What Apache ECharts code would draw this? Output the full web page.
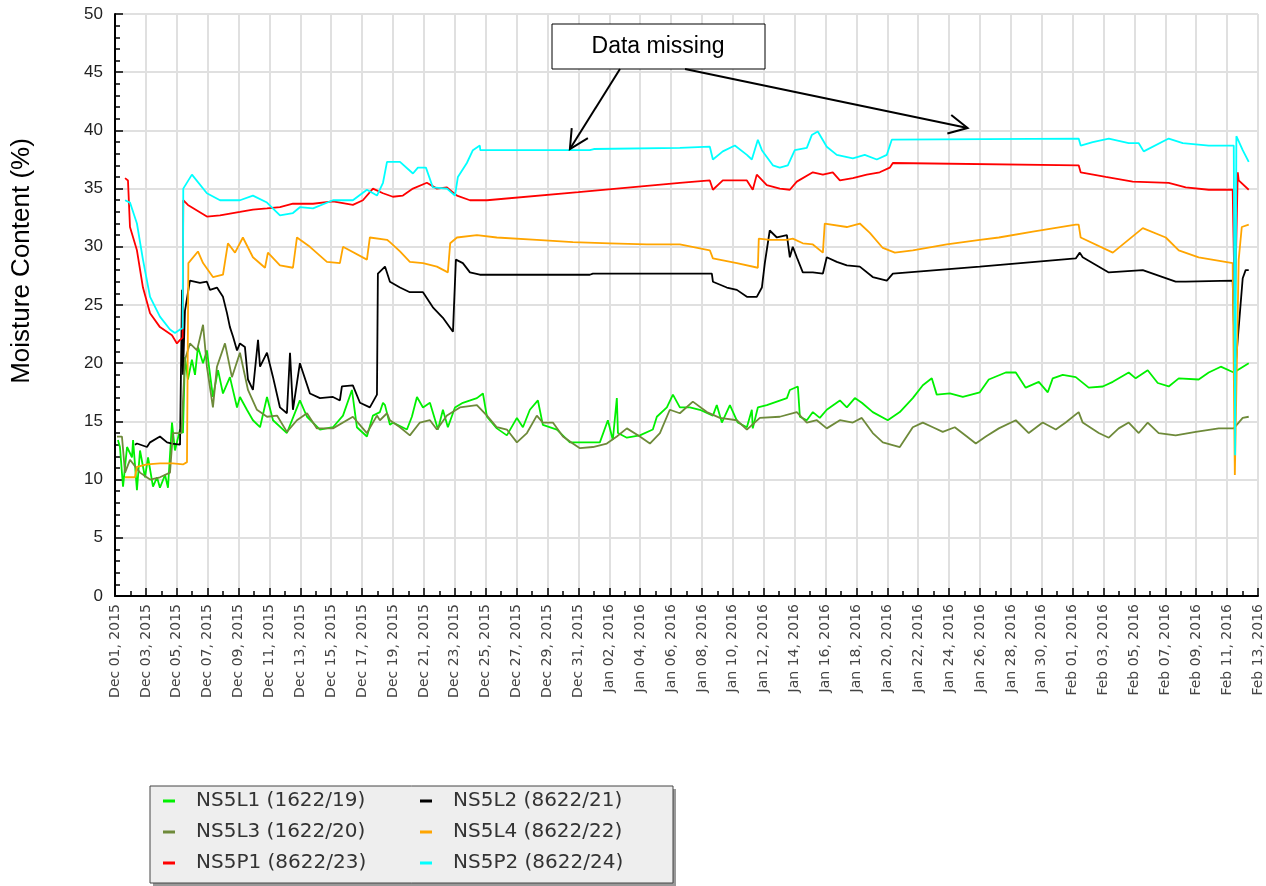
<!DOCTYPE html>
<html>
<head>
<meta charset="utf-8">
<title>Moisture Content</title>
<script src="https://cdn.jsdelivr.net/npm/echarts@6.0.0/dist/echarts.min.js"></script>
<style>
  html, body { margin: 0; padding: 0; background: #fff; }
  #chart { width: 1266px; height: 886px; }
</style>
</head>
<body>
<div id="chart"></div>
<script>
// x = days since Dec 01, 2015 (00:00), y = moisture content (%)
const START = Date.UTC(2015, 11, 1);
const MONTHS = ["Jan", "Feb", "Mar", "Apr", "May", "Jun", "Jul", "Aug", "Sep", "Oct", "Nov", "Dec"];

const ns5l1 = [
  [0.19,13.4],[0.32,12.8],[0.52,9.4],[0.78,12.8],[1.10,11.9],[1.17,13.4],[1.42,9.1],[1.62,12.5],[1.94,10.2],
  [2.14,11.9],[2.46,9.4],[2.72,10.2],[2.91,9.3],[3.24,10.4],[3.43,9.3],[3.69,14.9],[3.88,12.5],[4.21,14.3],
  [4.40,14.0],[4.53,20.5],[4.72,18.6],[4.98,20.3],[5.18,19.0],[5.37,21.4],[5.70,20.0],[5.95,21.1],[6.34,17.1],
  [6.67,19.4],[6.99,17.4],[7.44,18.8],[7.90,16.2],[8.09,17.1],[8.54,16.0],[8.93,15.1],[9.39,14.5],[9.84,17.1],
  [10.23,15.1],[11.13,14.0],[11.97,16.8],[12.43,15.4],[13.27,14.3],[14.11,14.5],[14.76,15.5],[15.34,17.7],
  [15.66,14.5],[16.31,13.7],[16.70,15.5],[17.15,15.8],[17.35,16.6],[17.48,16.4],[17.80,14.7],[17.99,14.9],
  [18.90,14.3],[19.22,15.4],[19.55,17.1],[19.94,16.2],[20.39,16.6],[20.91,14.3],[21.23,16.0],[21.55,14.5],
  [22.01,16.2],[22.52,16.6],[23.43,17.0],[23.82,17.4],[24.08,15.4],[24.72,14.4],[25.37,13.8],[26.02,15.3],
  [26.41,14.5],[26.86,16.0],[27.38,16.8],[27.70,14.7],[28.61,14.3],[29.45,13.2],[30.29,13.2],[31.39,13.2],
  [31.91,15.1],[32.23,13.4],[32.49,17.0],[32.56,14.0],[33.14,13.6],[33.98,13.8],[34.82,14.3],[35.08,15.4],
  [35.73,16.2],[36.12,17.3],[36.57,16.2],[37.22,16.2],[37.86,16.0],[38.71,15.5],[38.96,16.4],[39.29,14.9],
  [39.81,16.4],[40.32,14.9],[40.91,14.5],[41.23,16.0],[41.29,14.4],[41.62,16.2],[42.20,16.4],[42.85,16.7],
  [43.50,17.0],[43.69,17.7],[44.21,18.0],[44.34,15.4],[44.79,15.1],[45.18,15.8],[45.63,15.3],[46.08,16.0],
  [46.93,16.8],[47.38,16.2],[47.90,17.0],[48.35,16.6],[49.06,15.8],[50.03,15.1],[50.81,15.8],[51.65,17.0],
  [52.30,18.1],[52.88,18.7],[53.20,17.3],[54.05,17.4],[54.89,17.1],[55.99,17.5],[56.57,18.6],[57.67,19.2],
  [58.32,19.2],[58.96,17.9],[59.81,18.4],[60.39,17.5],[60.71,18.7],[61.36,19.0],[62.20,18.8],[63.04,17.9],
  [63.95,18.0],[64.60,18.4],[65.63,19.2],[66.08,18.7],[66.86,19.4],[67.51,18.3],[68.22,18.0],[68.87,18.7],
  [70.16,18.6],[70.81,19.2],[71.59,19.7],[72.43,19.2],[73.40,20.0]
];

const ns5l2 = [
  [1.29,13.0],[1.42,13.1],[2.07,12.8],[2.27,13.2],[2.91,13.7],[3.37,13.2],[3.69,13.1],[4.21,13.0],[4.30,13.0],
  [4.34,26.3],[4.40,19.0],[4.53,24.5],[4.85,27.1],[5.50,26.9],[5.95,27.0],[6.15,26.3],[6.60,26.5],[6.99,25.7],
  [7.25,24.3],[7.44,23.1],[7.64,22.3],[7.90,21.1],[8.09,21.7],[8.41,21.4],[8.61,18.6],[8.93,17.7],[9.26,22.0],
  [9.39,19.7],[9.84,20.9],[10.23,18.8],[10.68,16.2],[11.13,15.7],[11.33,20.9],[11.52,16.0],[11.97,20.0],
  [12.17,19.2],[12.62,17.4],[13.27,17.0],[14.11,17.1],[14.56,16.8],[14.69,18.0],[15.40,18.1],[15.86,16.6],
  [16.50,16.2],[16.96,17.3],[17.02,27.7],[17.48,28.3],[17.80,27.0],[18.45,26.5],[19.09,26.1],[19.94,26.1],
  [20.58,24.8],[21.23,23.9],[21.88,22.7],[22.07,28.9],[22.52,28.6],[22.98,27.8],[23.62,27.6],[30.74,27.6],
  [30.94,27.7],[36.57,27.7],[38.64,27.7],[38.71,27.0],[39.61,26.5],[40.26,26.3],[40.91,25.7],[41.55,25.7],
  [41.88,26.5],[42.07,28.6],[42.39,31.4],[42.85,30.8],[43.50,31.0],[43.69,29.1],[43.88,30.0],[44.14,29.1],
  [44.53,27.8],[45.18,27.8],[45.83,27.7],[46.08,29.1],[46.73,28.7],[47.38,28.4],[48.22,28.3],[49.06,27.4],
  [49.97,27.1],[50.36,27.7],[55.99,28.3],[62.20,29.0],[62.46,29.5],[62.65,29.1],[64.34,27.8],[66.54,28.0],
  [68.67,27.0],[69.32,27.0],[72.36,27.1],[72.52,19.3],[73.01,27.3],[73.20,28.0],[73.40,28.0]
];

const ns5l3 = [
  [0.13,13.7],[0.45,13.7],[0.65,10.6],[0.97,11.7],[1.62,10.6],[2.27,10.0],[2.91,10.2],[3.56,10.6],[3.75,14.0],
  [4.30,14.0],[4.53,20.3],[4.85,21.7],[5.31,21.1],[5.70,23.3],[5.95,19.7],[6.34,16.2],[6.60,19.7],[7.12,21.7],
  [7.57,18.8],[8.09,20.9],[8.61,17.7],[9.19,16.0],[9.84,15.4],[10.49,15.5],[11.13,14.1],[11.78,15.1],
  [12.43,15.7],[13.07,14.4],[14.11,14.4],[15.40,15.4],[16.31,14.0],[16.96,15.5],[17.15,15.1],[17.61,15.7],
  [17.80,15.1],[18.45,14.5],[19.09,13.8],[19.74,14.9],[20.39,15.1],[20.84,14.3],[21.49,15.5],[22.33,16.2],
  [23.43,16.4],[24.08,15.5],[24.72,14.5],[25.37,14.3],[26.02,13.2],[26.67,14.0],[27.31,15.5],[27.70,14.9],
  [28.35,14.9],[29.00,13.7],[29.64,13.1],[30.10,12.7],[30.94,12.8],[31.84,13.1],[32.49,13.7],[33.14,14.4],
  [33.98,13.7],[34.63,13.1],[35.28,14.0],[35.92,16.0],[36.57,15.7],[37.41,16.7],[38.32,15.8],[39.16,15.3],
  [40.26,15.1],[40.91,14.3],[41.75,15.3],[43.04,15.4],[44.14,15.8],[44.79,14.9],[45.44,15.1],[46.08,14.4],
  [46.93,15.1],[47.77,14.9],[48.35,15.3],[49.06,14.0],[49.71,13.2],[50.81,12.8],[51.65,14.5],[52.30,14.9],
  [52.95,14.5],[53.59,14.1],[54.37,14.5],[55.15,13.7],[55.73,13.1],[56.38,13.7],[57.22,14.4],[58.32,15.1],
  [59.16,14.0],[60.06,14.9],[60.91,14.3],[61.55,14.9],[62.39,15.8],[62.65,14.9],[63.69,14.0],[64.34,13.6],
  [64.98,14.4],[65.63,14.9],[66.28,14.0],[66.86,14.9],[67.57,14.0],[68.67,13.8],[69.97,14.1],[71.46,14.4],
  [72.43,14.4],[73.01,15.3],[73.40,15.4]
];

const ns5l4 = [
  [0.65,10.2],[1.29,10.2],[1.42,11.1],[2.07,11.3],[2.91,11.4],[3.75,11.4],[4.40,11.3],[4.66,11.5],[4.75,28.6],
  [5.37,29.6],[5.70,28.6],[6.34,27.4],[6.99,27.6],[7.31,30.3],[7.77,29.5],[8.28,30.8],[8.93,29.1],[9.71,28.2],
  [9.90,29.5],[10.68,28.4],[11.52,28.2],[11.78,30.8],[12.62,30.0],[13.72,28.7],[14.56,28.6],[14.76,30.0],
  [16.31,28.9],[16.50,30.8],[17.61,30.6],[17.80,30.4],[18.45,29.6],[19.09,28.7],[19.94,28.6],[20.84,28.3],
  [21.55,27.8],[21.70,30.3],[22.14,30.8],[23.43,31.0],[24.72,30.8],[27.31,30.6],[29.64,30.4],[32.04,30.3],
  [34.43,30.2],[36.57,30.2],[38.51,29.7],[38.71,29.0],[40.26,28.6],[41.62,28.2],[41.68,30.7],[42.39,30.6],
  [43.50,30.6],[43.88,30.7],[44.53,30.3],[45.18,30.2],[45.83,29.5],[45.95,32.0],[47.38,31.7],[48.22,32.0],
  [48.87,31.2],[49.71,29.9],[50.49,29.5],[51.65,29.7],[53.85,30.2],[55.99,30.6],[57.22,30.8],[59.42,31.3],
  [62.20,31.9],[62.39,31.9],[62.52,30.8],[64.60,29.5],[66.54,31.6],[68.03,30.8],[68.87,29.7],[70.16,29.1],
  [72.36,28.6],[72.50,10.4],[72.75,28.9],[72.95,31.7],[73.40,31.9]
];

const ns5p1 = [
  [0.65,35.9],[0.84,35.7],[0.97,31.7],[1.42,29.7],[1.81,26.5],[2.27,24.3],[2.91,23.1],[3.69,22.4],[4.01,21.7],
  [4.21,22.0],[4.38,22.2],[4.42,34.0],[4.72,33.6],[5.95,32.6],[6.80,32.7],[8.09,33.0],[8.93,33.2],[9.84,33.3],
  [10.68,33.4],[11.52,33.7],[12.82,33.7],[14.11,33.9],[15.40,33.6],[16.05,34.0],[16.70,35.0],[17.35,34.6],
  [17.99,34.3],[18.64,34.4],[19.29,35.0],[20.19,35.5],[20.84,35.0],[21.49,35.1],[22.14,34.4],[22.98,34.0],
  [24.08,34.0],[30.00,34.7],[36.57,35.5],[38.51,35.7],[38.71,34.9],[39.35,35.7],[40.91,35.7],[41.29,34.9],
  [41.55,36.2],[42.20,35.3],[43.04,35.0],[43.69,34.9],[44.14,35.6],[45.18,36.4],[45.83,36.2],[46.47,36.4],
  [46.93,35.7],[47.77,35.9],[48.67,36.2],[49.51,36.4],[50.16,36.8],[50.36,37.2],[62.39,37.0],[62.52,36.4],
  [64.14,36.0],[65.89,35.6],[68.22,35.5],[69.32,35.1],[70.81,34.9],[72.36,34.9],[72.50,24.6],[72.69,36.4],
  [72.75,35.7],[73.40,34.9]
];

const ns5p2 = [
  [0.65,34.0],[0.97,33.8],[1.42,32.0],[1.81,28.9],[2.27,25.7],[2.91,24.0],[3.56,22.9],[3.88,22.6],[4.21,22.9],
  [4.38,23.0],[4.42,35.0],[4.98,36.2],[5.95,34.6],[6.80,34.0],[8.09,34.0],[8.93,34.4],[9.84,33.8],[10.68,32.7],
  [11.52,32.9],[11.97,33.4],[12.82,33.3],[14.11,34.0],[15.40,34.0],[16.31,34.9],[16.96,34.4],[17.35,35.5],
  [17.61,37.3],[18.45,37.3],[19.29,36.3],[19.61,36.8],[20.13,36.8],[20.58,35.1],[21.49,35.0],[22.01,34.4],
  [22.20,36.0],[22.78,37.2],[23.17,38.3],[23.62,38.7],[23.65,38.3],[30.74,38.3],[31.00,38.4],[36.57,38.5],
  [38.51,38.6],[38.71,37.5],[39.35,38.2],[40.13,38.7],[40.91,37.9],[41.23,37.5],[41.62,39.2],[41.88,38.3],
  [42.59,37.0],[43.04,36.8],[43.56,37.0],[44.01,38.3],[44.79,38.5],[45.11,39.6],[45.50,39.9],[46.08,38.6],
  [46.73,37.9],[47.77,37.6],[48.54,37.9],[49.32,37.5],[49.97,37.9],[50.29,39.2],[62.39,39.3],[62.52,38.7],
  [63.30,39.0],[64.34,39.3],[65.63,38.9],[66.28,38.9],[66.60,38.2],[68.22,39.3],[69.13,38.9],[70.81,38.7],
  [72.43,38.7],[72.52,12.1],[72.60,39.5],[73.01,38.3],[73.40,37.3]
];

const seriesNames = [
  "NS5L1 (1622/19)", "NS5L2 (8622/21)", "NS5L3 (1622/20)",
  "NS5L4 (8622/22)", "NS5P1 (8622/23)", "NS5P2 (8622/24)"
];
const seriesData = [ns5l1, ns5l2, ns5l3, ns5l4, ns5p1, ns5p2];
const seriesColors = ["#00f000", "#000000", "#6e8a3a", "#ffa500", "#ff0000", "#00ffff"];

// "Data missing" arrows point at these (day, %) spots
const noteTips = [[29.45, 38.4], [55.2, 40.2]];

function dayLabel(v) {
  const d = new Date(START + v * 86400000);
  const dd = String(d.getUTCDate()).padStart(2, "0");
  return MONTHS[d.getUTCMonth()] + " " + dd + ", " + d.getUTCFullYear();
}

const chart = echarts.init(document.getElementById("chart"), null, { renderer: "canvas" });

const legendBase = {
  orient: "vertical",
  top: 791,
  padding: 0,
  itemGap: 11,
  itemWidth: 12,
  itemHeight: 3,
  icon: "rect",
  selectedMode: false,
  textStyle: {
    fontFamily: "DejaVu Sans",
    fontSize: 20,
    lineHeight: 20,
    color: "#333",
    padding: [0, 0, 0, 16]
  }
};

const option = {
  animation: false,
  backgroundColor: "#ffffff",
  grid: { left: 115, top: 14, right: 8, bottom: 290 },
  legend: [
    Object.assign({}, legendBase, { left: 163, data: [seriesNames[0], seriesNames[2], seriesNames[4]] }),
    Object.assign({}, legendBase, { left: 420, data: [seriesNames[1], seriesNames[3], seriesNames[5]] })
  ],
  xAxis: {
    type: "value",
    min: 0,
    max: 74,
    interval: 2,
    axisLine: { lineStyle: { color: "#000", width: 2 } },
    axisTick: { inside: true, length: 8, lineStyle: { color: "#000", width: 1.5 } },
    minorTick: { show: true, splitNumber: 2, length: 5, lineStyle: { color: "#000", width: 1.5 } },
    splitLine: { show: true, lineStyle: { color: "#e0e0e0", width: 2 } },
    axisLabel: {
      rotate: 90,
      margin: 8,
      fontFamily: "DejaVu Sans",
      fontSize: 14,
      color: "#444",
      showMinLabel: true,
      showMaxLabel: true,
      formatter: dayLabel
    }
  },
  yAxis: {
    type: "value",
    min: 0,
    max: 50,
    interval: 5,
    axisLine: { show: true, lineStyle: { color: "#000", width: 2 } },
    axisTick: { show: true, inside: true, length: 8, lineStyle: { color: "#000", width: 1.5 } },
    minorTick: { show: true, splitNumber: 5, length: 5, lineStyle: { color: "#000", width: 1.5 } },
    splitLine: { show: true, lineStyle: { color: "#e0e0e0", width: 2 } },
    axisLabel: {
      margin: 12,
      fontFamily: "Liberation Sans",
      fontSize: 17,
      color: "#222"
    }
  },
  series: seriesNames.map((name, i) => ({
    name: name,
    type: "line",
    data: seriesData[i],
    showSymbol: false,
    symbol: "none",
    itemStyle: { color: seriesColors[i] },
    lineStyle: { color: seriesColors[i], width: 1.8 },
    z: 2 + i
  }))
};

chart.setOption(option);

// annotation + legend frame + y title, placed once the grid is laid out
function arrow(from, tip) {
  const ang = Math.atan2(from[1] - tip[1], from[0] - tip[0]);
  const len = 21, spread = 27 * Math.PI / 180;
  const a = [tip[0] + len * Math.cos(ang + spread), tip[1] + len * Math.sin(ang + spread)];
  const b = [tip[0] + len * Math.cos(ang - spread), tip[1] + len * Math.sin(ang - spread)];
  return [
    { type: "line", shape: { x1: from[0], y1: from[1], x2: tip[0], y2: tip[1] },
      style: { stroke: "#000", lineWidth: 2 }, z: 20 },
    { type: "polyline", shape: { points: [a, tip, b] },
      style: { stroke: "#000", lineWidth: 2, fill: null }, z: 20 }
  ];
}

const tip1 = chart.convertToPixel({ gridIndex: 0 }, noteTips[0]);
const tip2 = chart.convertToPixel({ gridIndex: 0 }, noteTips[1]);

chart.setOption({
  graphic: [
    // legend frame
    { type: "rect", shape: { x: 153, y: 789, width: 523, height: 97 },
      style: { fill: "#999" }, z: -2, silent: true },
    { type: "rect", shape: { x: 150, y: 786, width: 523, height: 97 },
      style: { fill: "#eeeeee", stroke: "#444", lineWidth: 1 }, z: -1, silent: true },
    // y axis title
    { type: "text", x: 22, y: 261, rotation: Math.PI / 2,
      style: { text: "Moisture Content (%)", font: "26px 'Liberation Sans'", fill: "#000",
               align: "center", verticalAlign: "middle" }, z: 20 },
    // note box
    { type: "rect", shape: { x: 552, y: 24, width: 213, height: 45 },
      style: { fill: "#fff", stroke: "#000", lineWidth: 1 }, z: 20 },
    { type: "text", x: 658, y: 47,
      style: { text: "Data missing", font: "23px 'Liberation Sans'", fill: "#000",
               align: "center", verticalAlign: "middle" }, z: 21 }
  ].concat(arrow([620, 69], tip1), arrow([685, 69], tip2))
});
</script>
</body>
</html>
